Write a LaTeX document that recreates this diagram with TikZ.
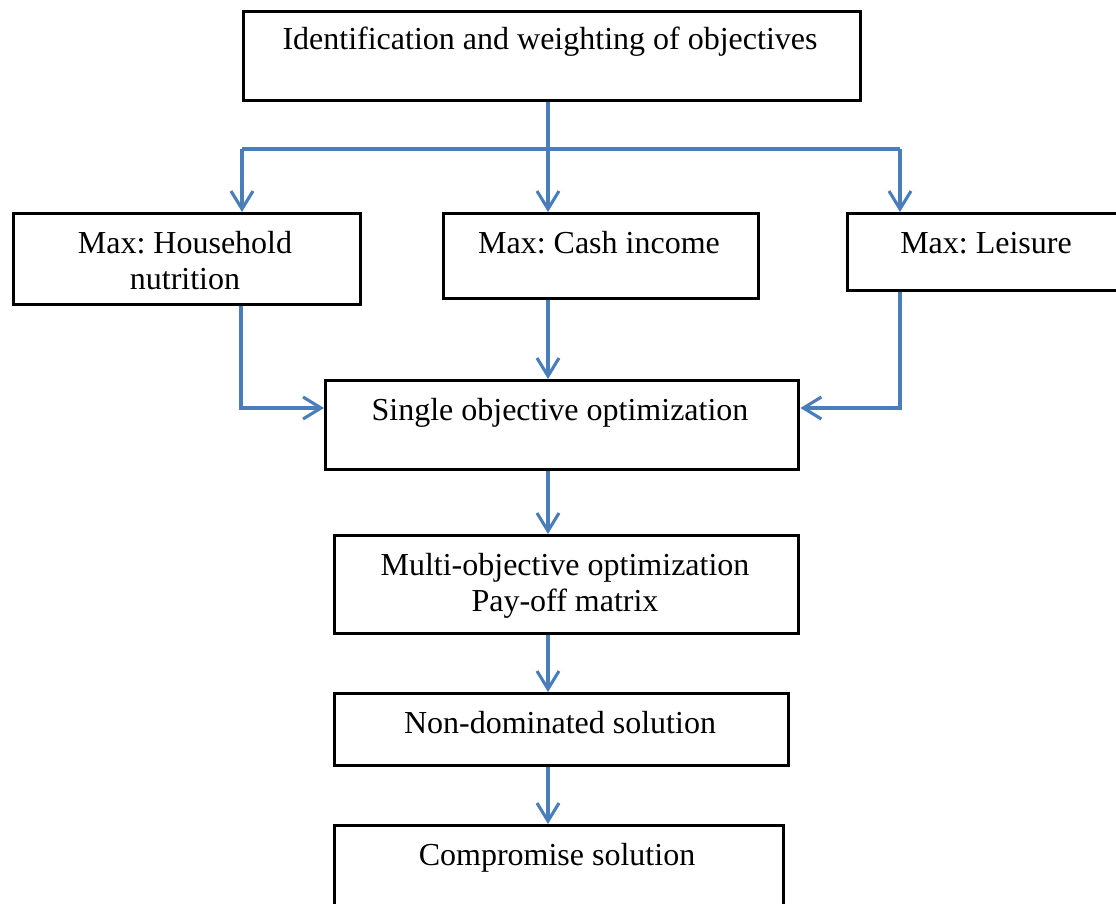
\documentclass[tikz,border=0pt]{standalone}
\usepackage{fontspec}
\setmainfont{Liberation Serif}
\usetikzlibrary{arrows.meta}
\definecolor{flowblue}{RGB}{74,126,187}
\tikzset{
  box/.style={draw=black, line width=3.4pt, rectangle, inner sep=0pt, anchor=north west},
  txt/.style={anchor=base, inner sep=0pt, font=\fontsize{32}{36}\selectfont},
  link/.style={draw=flowblue, line width=3.1pt},
  arr/.style={link, -{Straight Barb[length=18pt, width=22pt]}}
}
\frenchspacing
\begin{document}
\begin{tikzpicture}[x=1pt, y=-1pt]
\useasboundingbox (0,0) rectangle (1116,904);
\clip (0,0) rectangle (1116,904);

% boxes
\node[box, minimum width=617pt, minimum height=89pt] (top) at (242,10) {};
\node[box, minimum width=347pt, minimum height=91pt] (hh) at (12,212) {};
\node[box, minimum width=315pt, minimum height=85pt] (cash) at (442,212) {};
\node[box, minimum width=280pt, minimum height=77pt] (leis) at (846,212) {};
\node[box, minimum width=473pt, minimum height=89pt] (single) at (324,379) {};
\node[box, minimum width=464pt, minimum height=98pt] (multi) at (333,534) {};
\node[box, minimum width=454pt, minimum height=72pt] (nondom) at (333,692) {};
\node[box, minimum width=449pt, minimum height=81pt] (comp) at (333,824) {};

% labels
\node[txt] (top-t) at (550,50) {Identification and weighting of objectives};
\node[txt] (hh-t1) at (185,253) {Max: Household};
\node[txt] (hh-t2) at (185,289) {nutrition};
\node[txt] (cash-t) at (599,253) {Max: Cash income};
\node[txt] (leis-t) at (986,253) {Max: Leisure};
\node[txt] (single-t) at (560,420) {Single objective optimization};
\node[txt] (multi-t1) at (565,575) {Multi-objective optimization};
\node[txt] (multi-t2) at (565,611) {Pay-off matrix};
\node[txt] (nondom-t) at (560,733) {Non-dominated solution};
\node[txt] (comp-t) at (557,865) {Compromise solution};

% junction points of the connectors
\coordinate (bl) at (242,149);
\coordinate (bm) at (548,149);
\coordinate (br) at (900,149);
\coordinate (jl) at (241,408);
\coordinate (jr) at (900,408);

% distribution from the top box
\draw[link] (bl) -- (br);
\draw[arr] (bm |- top.south) -- (bm |- cash.north);
\draw[arr] (bl) -- (bl |- hh.north);
\draw[arr] (br) -- (br |- leis.north);

% collection into single objective optimization
\draw[arr] (jl |- hh.south) -- (jl) -- (jl -| single.west);
\draw[arr] (jr |- leis.south) -- (jr) -- (jr -| single.east);
\draw[arr] (bm |- cash.south) -- (bm |- single.north);

% main chain
\draw[arr] (bm |- single.south) -- (bm |- multi.north);
\draw[arr] (bm |- multi.south) -- (bm |- nondom.north);
\draw[arr] (bm |- nondom.south) -- (bm |- comp.north);
\end{tikzpicture}
\end{document}
